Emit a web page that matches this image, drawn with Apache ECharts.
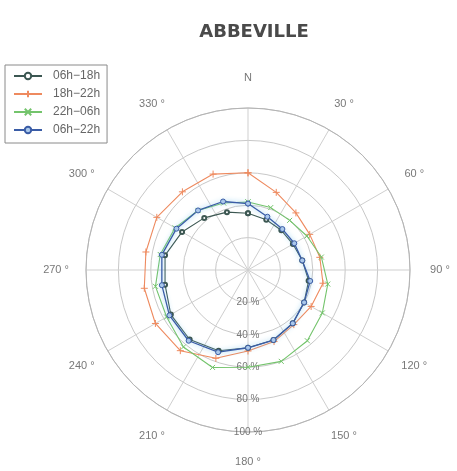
<!DOCTYPE html>
<html>
<head>
<meta charset="utf-8">
<script src="https://cdn.jsdelivr.net/npm/echarts@6/dist/echarts.min.js"></script>
<style>
  html, body { margin: 0; padding: 0; background: #ffffff; }
  #chart { width: 457px; height: 471px; }
</style>
</head>
<body>
<div id="chart"></div>
<script>
// Wind directions (degrees, clockwise from north), 20° sectors
const directions = [0, 20, 40, 60, 80, 100, 120, 140, 160, 180, 200, 220, 240, 260, 280, 300, 320, 340];

// Share per direction (%) for each time slot
const slot0618 = [35, 33, 32, 32, 34, 38, 40, 43, 46, 48, 53, 56, 55, 52, 52, 47, 42, 38];
const slot1822 = [60, 51, 46, 44, 45, 47, 45, 44, 47, 50, 58, 65, 66, 65, 64, 65, 63, 63];
const slot2206 = [42, 41, 40, 42, 46, 50, 53, 57, 60, 60, 64, 62, 58, 58, 55, 52, 48, 44];
const slot0622 = [41, 35, 33, 33, 34, 39, 40, 43, 46, 48, 54, 57, 56, 54, 54, 51, 48, 45];

const slotNames = ['06h\u221218h', '18h\u221222h', '22h\u221206h', '06h\u221222h'];

// Axis ticks and their labels
const angleTicks = [0, 30, 60, 90, 120, 150, 180, 210, 240, 270, 300, 330];
const angleTickLabels = ['N', '30 °', '60 °', '90 °', '120 °', '150 °', '180 °', '210 °', '240 °', '270 °', '300 °', '330 °'];
const radiusTicks = [20, 40, 60, 80, 100];
const radiusTickLabels = ['20 %', '40 %', '60 %', '80 %', '100 %'];

// close each rose by repeating the first sector at 360°
function closedLoop(values) {
  const pts = directions.map((d, i) => [values[i], d]);
  pts.push([values[0], 360]);
  return pts;
}

const PLUS = 'path://M0,5L10,5M5,0L5,10';
const CROSS = 'path://M0,0L10,10M10,0L0,10';

const colors = ['#3c5752', '#ee8a5f', '#74c46c', '#3a5ca6'];

function lineSeries(name, values, color, symbol, size, extra) {
  return Object.assign({
    type: 'line',
    name: name,
    coordinateSystem: 'polar',
    data: closedLoop(values),
    symbol: symbol,
    symbolSize: size,
    showSymbol: true,
    lineStyle: { color: color, width: 1.1 },
    itemStyle: { color: color, borderColor: color, borderWidth: 1 },
    emphasis: { disabled: true },
    animation: false
  }, extra || {});
}

const chart = echarts.init(document.getElementById('chart'), null, { renderer: 'canvas' });

chart.setOption({
  backgroundColor: '#ffffff',
  animation: false,
  color: colors,
  title: {
    text: 'ABBEVILLE',
    left: 249,
    textAlign: 'center',
    top: 18,
    textStyle: { fontFamily: 'DejaVu Sans', fontSize: 18, fontWeight: 'bold', color: '#4a4a4a' }
  },
  legend: {
    orient: 'vertical',
    left: 5,
    top: 65,
    data: slotNames,
    itemWidth: 28,
    itemHeight: 8,
    itemGap: 6,
    padding: [5, 7, 7, 8],
    borderColor: '#8a8a8a',
    borderWidth: 1,
    backgroundColor: '#ffffff',
    textStyle: { fontFamily: 'Liberation Sans', fontSize: 12, color: '#666', padding: [0, 0, 0, 6] }
  },
  polar: { center: [248, 270], radius: 162 },
  angleAxis: {
    type: 'value',
    min: 0,
    max: 360,
    interval: 30,
    startAngle: 90,
    clockwise: true,
    axisLine: { show: true, lineStyle: { color: '#b4b4b4', width: 1 } },
    axisTick: { show: false },
    axisLabel: { show: false },
    splitLine: { show: true, lineStyle: { color: '#cfcfcf', width: 1 } }
  },
  radiusAxis: {
    type: 'value',
    min: 0,
    max: 100,
    interval: 20,
    axisLine: { show: false },
    axisTick: { show: false },
    axisLabel: { show: false },
    splitLine: { show: true, lineStyle: { color: '#c8c8c8', width: 1 } }
  },
  series: [
    // compass labels just outside the outer ring
    {
      type: 'scatter',
      coordinateSystem: 'polar',
      silent: true,
      clip: false,
      symbolSize: 1,
      itemStyle: { color: 'rgba(0,0,0,0)' },
      data: angleTicks.map((a, i) => ({ name: angleTickLabels[i], value: [118.5, a] })),
      label: {
        show: true, position: 'inside', formatter: '{b}',
        fontFamily: 'Liberation Sans', fontSize: 11, color: '#555'
      }
    },
    // ring labels along the southern spoke
    {
      type: 'scatter',
      coordinateSystem: 'polar',
      silent: true,
      clip: false,
      symbolSize: 1,
      itemStyle: { color: 'rgba(0,0,0,0)' },
      data: radiusTicks.map((r, i) => ({ name: radiusTickLabels[i], value: [r, 180] })),
      label: {
        show: true, position: 'inside', formatter: '{b}',
        fontFamily: 'Liberation Sans', fontSize: 10, color: '#555'
      },
      z: 1
    },
    lineSeries(slotNames[1], slot1822, colors[1], PLUS, 7),
    lineSeries(slotNames[2], slot2206, colors[2], CROSS, 5),
    lineSeries(slotNames[0], slot0618, colors[0], 'emptyCircle', 4),
    lineSeries(slotNames[3], slot0622, colors[3], 'circle', 5, {
      lineStyle: { color: colors[3], width: 1.3, shadowColor: 'rgba(110,190,235,0.9)', shadowBlur: 5 },
      itemStyle: { color: '#aac8ea', borderColor: colors[3], borderWidth: 1 }
    })
  ]
});
</script>
</body>
</html>
